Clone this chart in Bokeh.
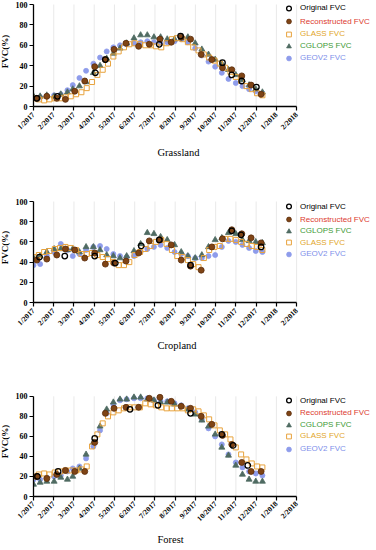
import math
from bokeh.plotting import figure
from bokeh.layouts import column
from bokeh.models import Range1d, FixedTicker, Legend, LegendItem, Title
from bokeh.embed import file_html
from bokeh.resources import INLINE

# ---------------- data ----------------
MONTH_TICKS = list(range(14))
MONTH_LABELS = ["1/2017", "2/2017", "3/2017", "4/2017", "5/2017", "6/2017", "7/2017",
                "8/2017", "9/2017", "10/2017", "11/2017", "12/2017", "1/2018", "2/2018"]
Y_TICKS = [0, 20, 40, 60, 80, 100]

# sampling days of year (2017)
DOY_GLASS = [1, 9, 17, 25, 33, 41, 49, 57, 65, 73, 81, 89, 97, 105, 113, 121, 129, 137, 145, 153,
             161, 169, 177, 185, 193, 201, 209, 217, 225, 233, 241, 249, 257, 265, 273, 281, 289,
             297, 305, 313, 321, 329, 337, 345]
DOY_DEKAD = [1, 11, 21, 32, 42, 52, 60, 70, 80, 91, 101, 111, 121, 131, 141, 152, 162, 172, 182,
             192, 202, 213, 223, 233, 244, 254, 264, 274, 284, 294, 305, 315, 325, 335, 345]
DOY_RECON = [6, 21, 36, 49, 63, 78, 93, 109, 122, 140, 159, 175, 191, 208, 223, 237, 253, 269,
             285, 299, 314, 328, 343]

# Grassland
G_GLASS = [8, 7, 6, 7, 8, 8, 9, 10, 12, 14, 18, 24, 31, 36, 42, 49, 54, 58, 61, 62,
           61, 60, 60, 59, 58, 62, 66, 67, 66, 63, 58, 55, 51, 48, 45, 42, 38, 34, 29, 25,
           20, 17, 13, 11]
G_CGLOPS = [10, 10, 11, 10, 12, 14, 17, 20, 24, 33, 40, 47, 52, 57, 62, 67, 70, 70, 68, 68,
            66, 66, 67, 68, 62, 56, 51, 46, 42, 36, 31, 26, 21, 17, 14]
G_GEOV2 = [9, 9, 10, 11, 12, 16, 21, 28, 35, 42, 48, 54, 58, 60, 61, 62, 63, 64, 63, 62,
           63, 64, 66, 63, 57, 50, 44, 39, 33, 27, 23, 20, 17, 15, 13]
G_RECON = [8, 10, 8, 7, 15, 25, 39, 46, 56, 62, 59, 61, 66, 63, 68, 66, 51, 46, 38, 36, 30, 21, 12]
G_ORIG_DOY = [6, 37, 94, 109, 190, 222, 285, 299, 314, 336]
G_ORIG = [8, 10, 33, 46, 61, 69, 43, 31, 25, 19]

# Cropland
C_GLASS = [45, 47, 50, 51, 53, 54, 55, 54, 52, 48, 48, 49, 47, 45, 43, 40, 37, 37, 40, 47,
           50, 53, 56, 60, 62, 58, 52, 46, 45, 42, 38, 35, 44, 52, 55, 56, 63, 63, 62, 60,
           58, 56, 55, 52]
C_CGLOPS = [44, 46, 50, 53, 53, 52, 53, 50, 55, 55, 52, 47, 46, 44, 46, 51, 58, 69, 68, 65,
            62, 57, 50, 46, 44, 47, 55, 62, 64, 69, 68, 62, 61, 60, 59]
C_GEOV2 = [37, 38, 46, 50, 58, 52, 46, 48, 52, 55, 56, 53, 48, 46, 45, 46, 50, 53, 55, 57,
           54, 50, 48, 46, 44, 44, 46, 47, 55, 61, 60, 57, 54, 51, 50]
C_RECON = [42, 43, 47, 53, 52, 44, 49, 38, 39, 41, 49, 61, 62, 57, 42, 36, 32, 55, 63, 72, 68, 64, 59]
C_ORIG_DOY = [10, 48, 93, 124, 163, 190, 237, 299, 313, 343]
C_ORIG = [45, 46, 46, 39, 56, 62, 37, 71, 67, 55]

# Forest
F_GLASS = [20, 22, 23, 22, 24, 25, 26, 26, 26, 27, 30, 50, 62, 73, 80, 84, 86, 88, 89, 89,
           89, 93, 92, 91, 89, 88, 88, 88, 88, 86, 87, 85, 81, 77, 71, 66, 62, 57, 49, 42,
           37, 33, 30, 29]
F_CGLOPS = [12, 14, 15, 15, 19, 17, 20, 28, 42, 54, 70, 87, 94, 97, 97, 99, 99, 97, 96, 94,
            94, 92, 90, 87, 82, 76, 70, 62, 49, 41, 31, 22, 17, 15, 15]
F_GEOV2 = [17, 17, 19, 20, 21, 25, 28, 30, 38, 50, 66, 83, 92, 96, 97, 98, 98, 98, 96, 95,
           95, 93, 91, 88, 84, 77, 68, 60, 52, 42, 34, 29, 25, 23, 21]
F_RECON = [20, 18, 22, 26, 25, 25, 54, 83, 88, 89, 89, 98, 99, 95, 90, 88, 80, 72, 61, 52, 34, 25, 25]
F_ORIG_DOY = [7, 38, 93, 146, 188, 237, 284, 301, 323]
F_ORIG = [20, 25, 58, 87, 91, 83, 62, 51, 31]

# ---------------- styles ----------------
SERIF = "Liberation Serif"
SANS = "Liberation Sans"
STYLE = {
    "Original FVC": dict(marker="circle", size=5.5, fill_color=None, line_color="#000000",
                         line_width=1.3, text="#000000"),
    "Reconstructed FVC": dict(marker="circle", size=6, fill_color="#7f4415", line_color="#5b2c0b",
                              line_width=0.8, text="#dc3b2f"),
    "GLASS FVC": dict(marker="square", size=5, fill_color=None, line_color="#e8a33d",
                      line_width=1.0, text="#e2a62a"),
    "CGLOPS FVC": dict(marker="triangle", size=6, fill_color="#4f6b62", line_color="#4f6b62",
                       line_width=0.8, text="#3d9a36"),
    "GEOV2 FVC": dict(marker="circle", size=5, fill_color="#8e9ceb", line_color="#8e9ceb",
                      line_width=0.8, text="#7e8fea"),
}
DRAW_ORDER = ["GEOV2 FVC", "CGLOPS FVC", "GLASS FVC", "Reconstructed FVC", "Original FVC"]

FIG_W = 376
FRAME_LEFT = 32
AXIS_W = 267          # pixel length of the 1/2017 .. 2/2018 axis
PX_PER_MONTH = AXIS_W / (MONTH_TICKS[-1] - MONTH_TICKS[0])


def to_x(doys):
    return [(d - 1) / (365.0 / 12.0) for d in doys]


def make_panel(title, series, legend_order, height, pad_top, plot_h, b_bottom, legend_vy,
               title_standoff, label_standoff=3):
    px_per_unit = plot_h / 100.0
    x_end = (FIG_W - FRAME_LEFT) / PX_PER_MONTH
    y_end = 100 + pad_top / px_per_unit
    p = figure(width=FIG_W, height=height, x_range=Range1d(0, x_end), y_range=Range1d(0, y_end),
               output_backend="svg", toolbar_location=None,
               min_border_left=FRAME_LEFT, min_border_right=0,
               min_border_top=0, min_border_bottom=b_bottom)
    p.outline_line_color = None
    p.background_fill_color = "white"

    # axes
    p.xaxis.ticker = FixedTicker(ticks=MONTH_TICKS)
    p.xaxis.bounds = (MONTH_TICKS[0], MONTH_TICKS[-1])
    p.xaxis.major_label_overrides = {i: lab for i, lab in zip(MONTH_TICKS, MONTH_LABELS)}
    p.xaxis.major_label_orientation = math.pi / 4
    p.yaxis.ticker = FixedTicker(ticks=Y_TICKS)
    p.yaxis.bounds = (Y_TICKS[0], Y_TICKS[-1])
    for ax in (p.xaxis, p.yaxis):
        ax.axis_line_color = "black"
        ax.axis_line_width = 1.3
        ax.major_tick_line_color = "black"
        ax.major_tick_line_width = 1.2
        ax.major_tick_in = 0
        ax.major_tick_out = 4
        ax.minor_tick_line_color = None
        ax.major_label_text_font = SERIF
        ax.major_label_text_font_style = "bold"
        ax.major_label_text_color = "black"
    p.xaxis.major_label_text_font_size = "7.5px"
    p.xaxis.major_label_standoff = label_standoff
    p.yaxis.major_label_text_font_size = "8px"
    p.yaxis.major_label_standoff = 2
    p.yaxis.axis_label = "FVC(%)"
    p.yaxis.axis_label_text_font = SERIF
    p.yaxis.axis_label_text_font_style = "bold"
    p.yaxis.axis_label_text_font_size = "9px"
    p.yaxis.axis_label_standoff = 3
    p.yaxis.axis_label_text_color = "black"

    p.xgrid.grid_line_color = None
    p.ygrid.grid_line_color = None
    # faint vertical month grid lines, limited to the axis extent
    p.segment(x0=MONTH_TICKS[1:], x1=MONTH_TICKS[1:], y0=Y_TICKS[0], y1=Y_TICKS[-1],
              line_color="#e9e9e9", line_width=1)

    renderers = {}
    for name in DRAW_ORDER:
        doys, vals = series[name]
        st = STYLE[name]
        renderers[name] = p.scatter(to_x(doys), vals, marker=st["marker"], size=st["size"],
                                    fill_color=st["fill_color"], line_color=st["line_color"],
                                    line_width=st["line_width"])

    for name, vy in zip(legend_order, legend_vy):
        leg = Legend(items=[LegendItem(label=name, renderers=[renderers[name]])],
                     location=(249, vy), orientation="vertical",
                     label_text_color=STYLE[name]["text"], label_text_font=SANS,
                     label_text_font_size="8px", glyph_width=13, glyph_height=12,
                     label_height=12, label_standoff=5, padding=0, margin=0, spacing=0,
                     background_fill_alpha=0, border_line_alpha=0)
        p.add_layout(leg)

    t = Title(text=title, align="left", offset=124, text_font=SERIF,
              text_font_style="normal", text_font_size="10.5px", text_color="black",
              standoff=title_standoff)
    p.add_layout(t, "below")
    return p


ORDER1 = ["Original FVC", "Reconstructed FVC", "GLASS FVC", "CGLOPS FVC", "GEOV2 FVC"]
ORDER2 = ["Original FVC", "Reconstructed FVC", "CGLOPS FVC", "GLASS FVC", "GEOV2 FVC"]

p1 = make_panel("Grassland", {
    "Original FVC": (G_ORIG_DOY, G_ORIG), "Reconstructed FVC": (DOY_RECON, G_RECON),
    "GLASS FVC": (DOY_GLASS, G_GLASS), "CGLOPS FVC": (DOY_DEKAD, G_CGLOPS),
    "GEOV2 FVC": (DOY_DEKAD, G_GEOV2)}, ORDER1, 196, 8, 102, 86,
    [92.2, 78.8, 66.2, 54.2, 42.2], 8)

p2 = make_panel("Cropland", {
    "Original FVC": (C_ORIG_DOY, C_ORIG), "Reconstructed FVC": (DOY_RECON, C_RECON),
    "GLASS FVC": (DOY_GLASS, C_GLASS), "CGLOPS FVC": (DOY_DEKAD, C_CGLOPS),
    "GEOV2 FVC": (DOY_DEKAD, C_GEOV2)}, ORDER2, 194, 9, 101, 84,
    [89.8, 76.8, 65.5, 53.8, 42.2], 3)

p3 = make_panel("Forest", {
    "Original FVC": (F_ORIG_DOY, F_ORIG), "Reconstructed FVC": (DOY_RECON, F_RECON),
    "GLASS FVC": (DOY_GLASS, F_GLASS), "CGLOPS FVC": (DOY_DEKAD, F_CGLOPS),
    "GEOV2 FVC": (DOY_DEKAD, F_GEOV2)}, ORDER2, 160, 10, 102, 48,
    [89.8, 77.2, 65.5, 54.2, 41.5], 4, label_standoff=2)

layout = column(p1, p2, p3, spacing=0, margin=(-4, 0, 0, -4))

open("out.html", "w").write(file_html(layout, INLINE))
